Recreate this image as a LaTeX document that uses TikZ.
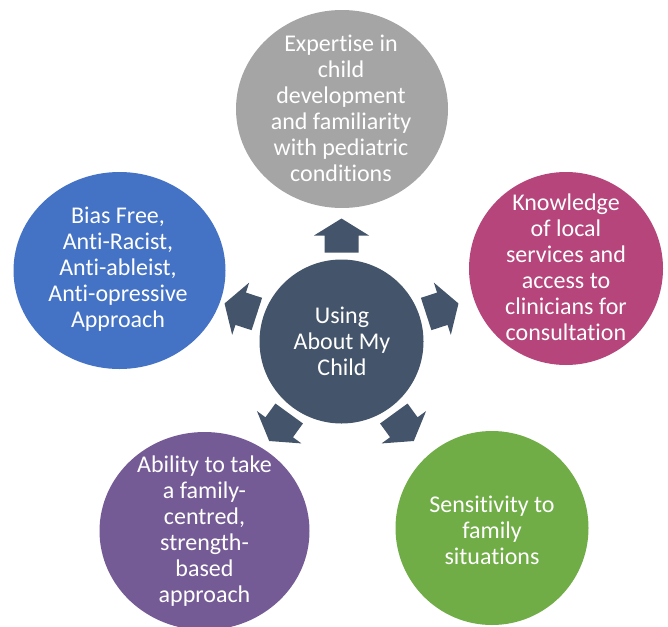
\documentclass[tikz,border=0pt]{standalone}
\usepackage{fontspec}
\setmainfont{Carlito}[Ligatures=NoCommon]
\usetikzlibrary{shapes.geometric}
\definecolor{cgray}{HTML}{A5A5A5}
\definecolor{cberry}{RGB}{181,69,122}
\definecolor{cblue}{HTML}{4472C4}
\definecolor{cgreen}{HTML}{70AD47}
\definecolor{cpurple}{RGB}{117,91,150}
\definecolor{cslate}{HTML}{44546A}
\begin{document}
\begin{tikzpicture}[x=1pt,y=-1pt,
  bubble/.style={ellipse, inner sep=0pt, outer sep=0pt, draw=none},
  txt/.style={text=white, align=center, inner sep=0pt, font=\fontsize{24}{26}\selectfont},
  blockarrow/.style={fill=cslate, draw=none}]
\useasboundingbox (0,0) rectangle (668,626);
\clip (0,0) rectangle (668,626);
% outer bubbles
\node[bubble, fill=cgray, minimum width=212pt, minimum height=198pt] (gray) at (342,109) {};
\node[bubble, fill=cberry, minimum width=194pt, minimum height=193pt] (berry) at (566,268.5) {};
\node[bubble, fill=cblue, minimum width=212pt, minimum height=197pt] (blue) at (119.5,270.5) {};
\node[bubble, fill=cgreen, minimum width=193pt, minimum height=194pt] (green) at (492,528) {};
\node[bubble, fill=cpurple, minimum width=210pt, minimum height=198pt] (purple) at (204.5,531) {};
% centre
\node[bubble, fill=cslate, minimum width=164pt, minimum height=164pt] (c) at (341.5,341.5) {};
% arrows
\foreach \ang in {90,18,162,-54,-126}{
  \fill[blockarrow, shift={(c.center)}, rotate=\ang]
    (89,-17) -- (106,-17) -- (106,-27.5) -- (123,0) -- (106,27.5) -- (106,17) -- (89,17) -- cycle;
}
% texts
\node[txt] (tc) at (342,341) {Using\\About My\\Child};
\node[txt] (tgray) at (341,108) {Expertise in\\child\\development\\and familiarity\\with pediatric\\conditions};
\node[txt] (tberry) at (566,267) {Knowledge\\of local\\services and\\access to\\clinicians for\\consultation};
\node[txt] (tblue) at (118,269) {Bias Free,\\Anti-Racist,\\Anti-ableist,\\Anti-opressive\\Approach};
\node[txt] (tgreen) at (492,530) {Sensitivity to\\family\\situations};
\node[txt] (tpurple) at (204.5,531) {Ability to take\\a family-\\centred,\\strength-\\based\\approach};
\end{tikzpicture}
\end{document}
